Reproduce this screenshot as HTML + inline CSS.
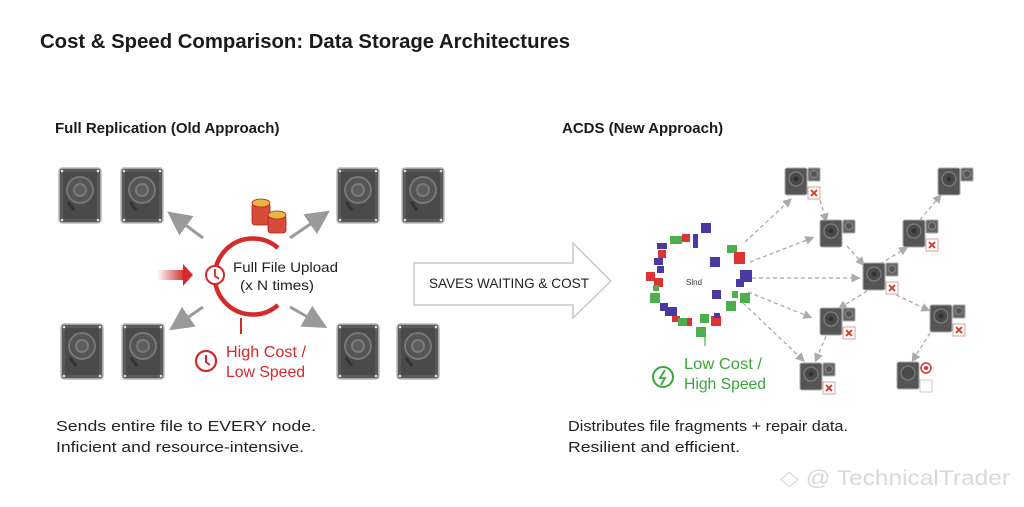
<!DOCTYPE html>
<html><head><meta charset="utf-8"><style>
body{margin:0;width:1024px;height:502px;background:#fff;overflow:hidden;font-family:"Liberation Sans",sans-serif}
</style></head><body>
<svg width="1024" height="502" xmlns="http://www.w3.org/2000/svg" font-family="Liberation Sans, sans-serif">
<defs>
<g id="disk">
<rect x="0" y="0" width="42" height="55" rx="3" fill="#5a5a5a" stroke="#bbb" stroke-width="1.5"/>
<rect x="4" y="4" width="34" height="47" rx="2" fill="#4a4a4a"/>
<circle cx="21" cy="22" r="13" fill="#555" stroke="#777" stroke-width="2"/>
<circle cx="21" cy="22" r="6" fill="#5e5e5e" stroke="#7a7a7a" stroke-width="2"/>
<line x1="9" y1="34" x2="15" y2="42" stroke="#333" stroke-width="3"/>
<circle cx="3" cy="3" r="1.3" fill="#ddd"/><circle cx="39" cy="3" r="1.3" fill="#ddd"/>
<circle cx="3" cy="52" r="1.3" fill="#ddd"/><circle cx="39" cy="52" r="1.3" fill="#ddd"/>
</g>
<g id="node">
<rect x="0" y="0" width="22" height="27" rx="2" fill="#555" stroke="#aaa"/>
<circle cx="11" cy="11" r="7" fill="#4a4a4a" stroke="#777" stroke-width="1.5"/>
<circle cx="11" cy="11" r="2.5" fill="#333"/>
<rect x="23" y="0" width="12" height="13" rx="1" fill="#666" stroke="#aaa"/>
<circle cx="29" cy="6" r="3.5" fill="#555" stroke="#888"/>
</g>
<g id="xb"><rect x="0" y="0" width="12" height="12" fill="#fff" stroke="#d9a0a0"/><path d="M3 3L9 9M9 3L3 9" stroke="#d32" stroke-width="1.8"/></g>
<marker id="ga" markerWidth="8" markerHeight="8" refX="6" refY="4" orient="auto"><path d="M0 0L8 4L0 8z" fill="#9a9a9a"/></marker>
<marker id="da" markerWidth="7" markerHeight="7" refX="5" refY="3.5" orient="auto"><path d="M0 0L7 3.5L0 7z" fill="#aaa"/></marker>
</defs>
<text x="40" y="48" font-size="20" font-weight="bold" fill="#1a1a1a" textLength="530" lengthAdjust="spacingAndGlyphs">Cost &amp; Speed Comparison: Data Storage Architectures</text>
<text x="55" y="133" font-size="15" font-weight="bold" fill="#1a1a1a">Full Replication (Old Approach)</text>
<text x="562" y="133" font-size="15" font-weight="bold" fill="#1a1a1a">ACDS (New Approach)</text>

<use href="#disk" x="59" y="168"/><use href="#disk" x="121" y="168"/>
<use href="#disk" x="337" y="168"/><use href="#disk" x="402" y="168"/>
<use href="#disk" x="61" y="324"/><use href="#disk" x="122" y="324"/>
<use href="#disk" x="337" y="324"/><use href="#disk" x="397" y="324"/>

<g stroke="#9a9a9a" stroke-width="3" marker-end="url(#ga)">
<line x1="203" y1="238" x2="172" y2="215"/>
<line x1="290" y1="238" x2="325" y2="214"/>
<line x1="203" y1="307" x2="174" y2="327"/>
<line x1="290" y1="307" x2="322" y2="325"/>
</g>
<path d="M278 248 A38 38 0 1 0 278 305" fill="none" stroke="#d42a2a" stroke-width="4.5"/>
<g fill="#d84a3a" stroke="#b02020" stroke-width="0.8">
<rect x="252" y="203" width="18" height="22" rx="3"/><ellipse cx="261" cy="203" rx="9" ry="4" fill="#e8b840"/>
<rect x="268" y="215" width="18" height="18" rx="3"/><ellipse cx="277" cy="215" rx="9" ry="4" fill="#e8b840"/>
</g>
<defs><linearGradient id="rg" x1="0" x2="1"><stop offset="0" stop-color="#d42a2a" stop-opacity="0"/><stop offset="1" stop-color="#d42a2a"/></linearGradient></defs>
<rect x="157" y="270" width="28" height="10" fill="url(#rg)"/>
<path d="M183 264L193 275L183 286z" fill="#d42a2a"/>
<circle cx="215" cy="275" r="9" fill="#fff" stroke="#d42a2a" stroke-width="2"/>
<path d="M215 269V276L219 279" stroke="#d42a2a" stroke-width="1.8" fill="none"/>
<text x="233" y="272" font-size="14" fill="#222" textLength="105" lengthAdjust="spacingAndGlyphs">Full File Upload</text>
<text x="240" y="290" font-size="14" fill="#222" textLength="74" lengthAdjust="spacingAndGlyphs">(x N times)</text>
<line x1="241" y1="318" x2="241" y2="334" stroke="#d42a2a" stroke-width="2"/>
<circle cx="206" cy="361" r="10" fill="none" stroke="#d42a2a" stroke-width="2.2"/>
<path d="M206 355V362L210 365" stroke="#d42a2a" stroke-width="2" fill="none"/>
<text x="226" y="357" font-size="16" fill="#d42a2a" textLength="80" lengthAdjust="spacingAndGlyphs">High Cost /</text>
<text x="226" y="377" font-size="16" fill="#d42a2a" textLength="79" lengthAdjust="spacingAndGlyphs">Low Speed</text>
<text x="56" y="431" font-size="15" fill="#222" textLength="260" lengthAdjust="spacingAndGlyphs">Sends entire file to EVERY node.</text>
<text x="56" y="452" font-size="15" fill="#222" textLength="248" lengthAdjust="spacingAndGlyphs">Inficient and resource-intensive.</text>

<path d="M414 263H573V243L611 281L573 318V305H414z" fill="#fff" stroke="#c8c8c8" stroke-width="1.5"/>
<text x="429" y="288" font-size="14" fill="#222" textLength="160" lengthAdjust="spacingAndGlyphs">SAVES WAITING &amp; COST</text>

<g>
<rect x="701" y="223" width="10" height="10" fill="#4a3aa0"/><rect x="670" y="236" width="12" height="8" fill="#4cae4c"/><rect x="682" y="234" width="8" height="8" fill="#d33"/>
<rect x="693" y="234" width="5" height="14" fill="#4a3aa0"/><rect x="657" y="243" width="10" height="6" fill="#4a3aa0"/>
<rect x="727" y="245" width="10" height="8" fill="#4cae4c"/><rect x="734" y="252" width="11" height="12" fill="#d33"/>
<rect x="658" y="250" width="8" height="8" fill="#d33"/><rect x="654" y="258" width="9" height="7" fill="#4a3aa0"/>
<rect x="710" y="257" width="10" height="10" fill="#4a3aa0"/><rect x="657" y="266" width="7" height="7" fill="#4a3aa0"/>
<rect x="646" y="272" width="9" height="9" fill="#d33"/><rect x="654" y="278" width="9" height="9" fill="#d33"/>
<rect x="740" y="270" width="12" height="12" fill="#4a3aa0"/><rect x="736" y="279" width="8" height="8" fill="#4a3aa0"/>
<rect x="653" y="285" width="6" height="6" fill="#4cae4c"/><rect x="732" y="291" width="6" height="7" fill="#4cae4c"/>
<rect x="650" y="293" width="10" height="10" fill="#4cae4c"/><rect x="740" y="293" width="10" height="10" fill="#4cae4c"/>
<rect x="712" y="290" width="9" height="9" fill="#4a3aa0"/><rect x="726" y="301" width="10" height="10" fill="#4cae4c"/>
<rect x="660" y="303" width="8" height="8" fill="#4a3aa0"/><rect x="665" y="307" width="12" height="9" fill="#4a3aa0"/>
<rect x="672" y="316" width="8" height="6" fill="#d33"/><rect x="678" y="318" width="10" height="8" fill="#4cae4c"/><rect x="687" y="318" width="5" height="8" fill="#d33"/>
<rect x="700" y="314" width="9" height="9" fill="#4cae4c"/><rect x="711" y="316" width="10" height="10" fill="#d33"/><rect x="714" y="313" width="6" height="5" fill="#4a3aa0"/>
<rect x="696" y="327" width="10" height="10" fill="#4cae4c"/>
<text x="686" y="285" font-size="8" fill="#333">Slnd</text>
</g>
<line x1="705" y1="337" x2="705" y2="346" stroke="#4cae4c" stroke-width="1.2"/>
<circle cx="663" cy="377" r="10" fill="none" stroke="#3aa63a" stroke-width="2"/>
<path d="M665 370L660 378H665L661 385" stroke="#3aa63a" stroke-width="1.8" fill="none"/>
<text x="684" y="369" font-size="16" fill="#3aa63a" textLength="78" lengthAdjust="spacingAndGlyphs">Low Cost /</text>
<text x="684" y="389" font-size="16" fill="#3aa63a" textLength="82" lengthAdjust="spacingAndGlyphs">High Speed</text>

<g stroke="#aaa" stroke-width="1.3" stroke-dasharray="4,3" fill="none" marker-end="url(#da)">
<line x1="745" y1="242" x2="790" y2="200"/>
<line x1="750" y1="262" x2="812" y2="238"/>
<line x1="752" y1="278" x2="858" y2="278"/>
<line x1="748" y1="292" x2="810" y2="317"/>
<line x1="743" y1="303" x2="803" y2="360"/>
<line x1="820" y1="200" x2="826" y2="220"/>
<line x1="847" y1="246" x2="863" y2="264"/>
<line x1="880" y1="264" x2="906" y2="248"/>
<line x1="920" y1="220" x2="940" y2="196"/>
<line x1="867" y1="291" x2="840" y2="308"/>
<line x1="826" y1="336" x2="816" y2="360"/>
<line x1="890" y1="292" x2="928" y2="310"/>
<line x1="930" y1="333" x2="913" y2="360"/>
</g>
<use href="#node" x="785" y="168"/><use href="#xb" x="808" y="187"/>
<use href="#node" x="820" y="220"/>
<use href="#node" x="863" y="263"/><use href="#xb" x="886" y="282"/>
<use href="#node" x="820" y="308"/><use href="#xb" x="843" y="327"/>
<use href="#node" x="800" y="363"/><use href="#xb" x="823" y="382"/>
<use href="#node" x="903" y="220"/><use href="#xb" x="926" y="239"/>
<use href="#node" x="938" y="168"/>
<use href="#node" x="930" y="305"/><use href="#xb" x="953" y="324"/>
<rect x="897" y="362" width="22" height="27" rx="2" fill="#555" stroke="#aaa"/><circle cx="908" cy="373" r="7" fill="#4a4a4a" stroke="#777" stroke-width="1.5"/>
<circle cx="926" cy="368" r="5" fill="none" stroke="#d33" stroke-width="1.5"/><circle cx="926" cy="368" r="2" fill="#d33"/>
<rect x="920" y="380" width="12" height="12" fill="#fff" stroke="#ccc"/>

<text x="568" y="431" font-size="15" fill="#222" textLength="280" lengthAdjust="spacingAndGlyphs">Distributes file fragments + repair data.</text>
<text x="568" y="452" font-size="15" fill="#222" textLength="172" lengthAdjust="spacingAndGlyphs">Resilient and efficient.</text>
<text x="780" y="485" font-size="21" fill="#d8d8d8" textLength="230" lengthAdjust="spacingAndGlyphs">◇ @ TechnicalTrader</text>
</svg>
</body></html>
